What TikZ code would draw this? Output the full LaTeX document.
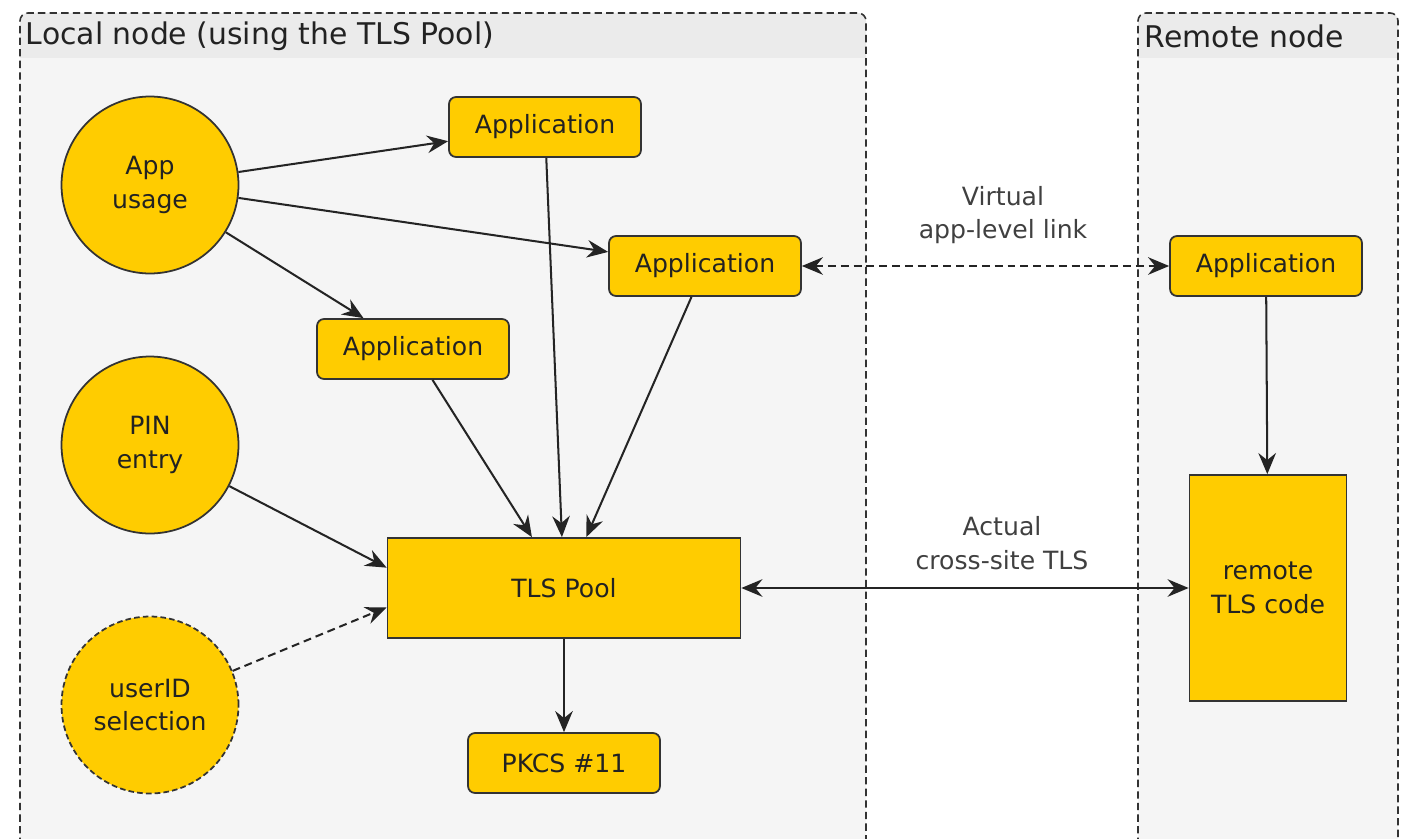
\documentclass[tikz,border=0pt]{standalone}
\usepackage{fontspec}
\setmainfont{DejaVu Sans}
\usetikzlibrary{arrows.meta,calc}

\definecolor{boxfill}{HTML}{FFCC00}
\definecolor{boxline}{HTML}{333333}
\definecolor{areafill}{HTML}{F5F5F5}
\definecolor{areahead}{HTML}{EBEBEB}
\definecolor{inktext}{HTML}{222222}
\definecolor{labeltext}{HTML}{404040}

\newcommand\nodefont{\fontsize{14.3}{19}\selectfont}
\newcommand\titlefont{\fontsize{17}{20}\selectfont}

\begin{document}
\begin{tikzpicture}[x=0.02cm,y=-0.02cm,line width=1pt,
  >={Stealth[length=12pt,width=10pt,inset=4pt]},
  areaborder/.style={draw=boxline,line width=.9pt,dash pattern=on 4.2pt off 2.4pt},
  usecircle/.style={circle,draw=boxline,fill=boxfill,line width=1pt,minimum size=3.54cm,
    align=center,font=\nodefont,text=inktext},
  appbox/.style={rectangle,rounded corners=4pt,draw=boxline,fill=boxfill,line width=1pt,
    minimum width=3.84cm,minimum height=1.2cm,font=\nodefont,text=inktext},
  poolbox/.style={rectangle,draw=boxline,fill=boxfill,line width=1pt,
    align=center,font=\nodefont,text=inktext},
  flow/.style={draw=boxline!70!black,line width=1.15pt},
  linklabel/.style={align=center,font=\nodefont,text=labeltext},
  areatitle/.style={anchor=west,inner sep=0pt,font=\titlefont,text=inktext}]
\useasboundingbox (0,0) rectangle (1408,838);

% the two host areas, grey with a darker title band
\fill[areafill] (20,845) [rounded corners=4.5pt] -- (20,13) -- (866,13) [sharp corners] -- (866,845) -- cycle;
\fill[areahead] (20,58) [rounded corners=4.5pt] -- (20,13) -- (866,13) [sharp corners] -- (866,58) -- cycle;
\draw[areaborder] (20,845) [rounded corners=4.5pt] -- (20,13) -- (866,13) [sharp corners] -- (866,845);
\fill[areafill] (1138,845) [rounded corners=4.5pt] -- (1138,13) -- (1398,13) [sharp corners] -- (1398,845) -- cycle;
\fill[areahead] (1138,58) [rounded corners=4.5pt] -- (1138,13) -- (1398,13) [sharp corners] -- (1398,58) -- cycle;
\draw[areaborder] (1138,845) [rounded corners=4.5pt] -- (1138,13) -- (1398,13) [sharp corners] -- (1398,845);
\node[areatitle] (localtitle) at (25,36) {Local node (using the TLS Pool)};
\node[areatitle] (remotetitle) at (1144,36) {Remote node};

% local side
\node[usecircle] (appuse) at (150,185) {App\\usage};
\node[usecircle] (pin) at (150,445) {PIN\\entry};
\node[usecircle,dash pattern=on 3.2pt off 1.8pt] (userid) at (150,705) {userID\\selection};
\node[appbox] (appA) at (545,127) {Application};
\node[appbox] (appB) at (705,266) {Application};
\node[appbox] (appC) at (413,349) {Application};
\node[poolbox,minimum width=7.06cm,minimum height=2cm] (pool) at (564,588) {TLS Pool};
\node[appbox] (pkcs) at (564,763) {PKCS \#11};

% remote side
\node[appbox] (rapp) at (1266,266) {Application};
\node[poolbox,minimum width=3.14cm,minimum height=4.52cm] (rtls) at (1268,588) {remote\\TLS code};

\coordinate (poolinA) at ($(pool.north west)!.3!(pool.south west)$);
\coordinate (poolinB) at ($(pool.north west)!.69!(pool.south west)$);

\draw[flow,->] (appuse) -- (appA);
\draw[flow,->] (appuse) -- (appB);
\draw[flow,->] (appuse) -- (appC);
\draw[flow,->] (appA) -- (pool);
\draw[flow,->] (appB) -- (pool);
\draw[flow,->] (appC) -- (pool);
\draw[flow,->] (pin) -- (poolinA);
\draw[flow,->,dash pattern=on 4.5pt off 2.8pt] (userid) -- (poolinB);
\draw[flow,->] (pool) -- (pkcs);
\draw[flow,->] (rapp) -- (rtls);

% links between the hosts
\draw[flow,<->,dash pattern=on 4.5pt off 2.8pt] (appB) -- (rapp);
\draw[flow,<->] (pool) -- (rtls);
\node[linklabel] (vlinklabel) at (1003,215) {Virtual\\app-level link};
\node[linklabel] (tlslabel) at (1002,543) {Actual\\cross-site TLS};
\end{tikzpicture}
\end{document}
